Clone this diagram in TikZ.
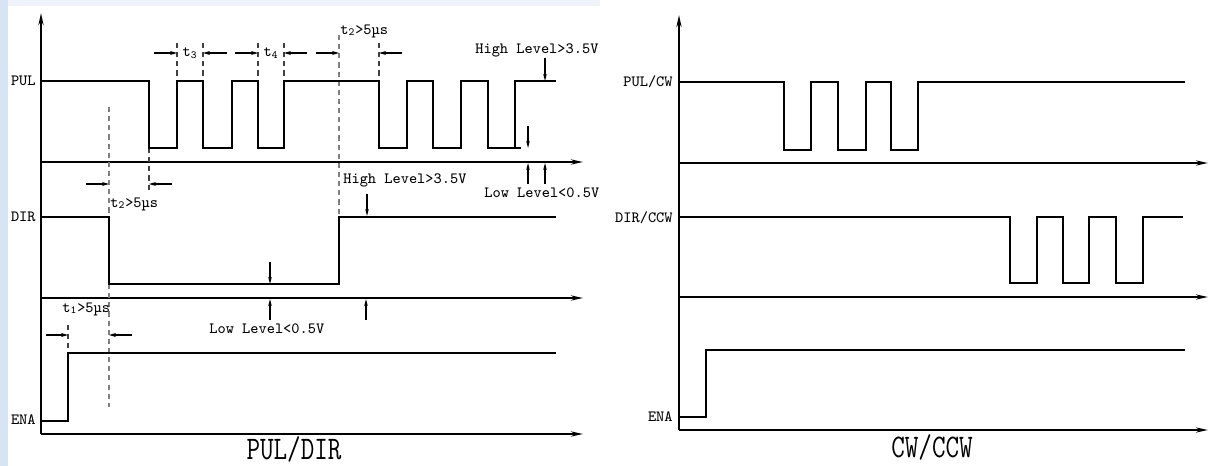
\documentclass[tikz,border=0pt]{standalone}
\usepackage{fontspec}
\usetikzlibrary{arrows.meta}
\newfontfamily\lblfont{Latin Modern Mono}
\definecolor{wm}{RGB}{214,228,244}
\tikzset{
  sig/.style={line width=1.15pt, line join=miter},
  axis/.style={line width=1.15pt, -{Stealth[length=6.8pt,width=2.9pt]}},
  guide/.style={line width=0.6pt, gray, dash pattern=on 2.9pt off 2.3pt},
  guidedark/.style={line width=0.6pt, black!75, dash pattern=on 2.9pt off 2.3pt},
  dim/.style={line width=0.8pt, -{Stealth[length=4pt,width=2.3pt]}},
  lvl/.style={line width=1pt, -{Stealth[length=4pt,width=2pt]}},
  txt/.style={inner sep=0pt, font=\lblfont\fontsize{8.9pt}{10pt}\selectfont},
  big/.style={inner sep=0pt, font=\lblfont\fontsize{15pt}{17pt}\selectfont},
}
\begin{document}
\begin{tikzpicture}[x=0.02cm, y=-0.02cm]
\useasboundingbox (0,0) rectangle (1209,466);
\fill[white] (0,0) rectangle (1209,466);
\fill[wm] (0,0) rectangle (8,466);
\fill[wm!40] (8,0) rectangle (600,6);

% ---------------- left diagram ----------------
\coordinate (LO) at (41,434);
\draw[axis] (LO) -- (41,13);
\draw[axis] (41,162) -- (583,162);
\draw[axis] (41,298) -- (583,298);
\draw[axis] (LO) -- (583,434);

% guides
\draw[guide] (339,35) -- (339,217);
\draw[guide] (109,107) -- (109,217);
\draw[guide] (109,284) -- (109,407);
\draw[guidedark] (149,148) -- (149,192);
\foreach \x in {177,203,258,284,379} \draw[guidedark] (\x,43) -- (\x,81);
\draw[guidedark] (68,325) -- (68,353);

% signals
\draw[sig] (41,81) -- (149,81) -- (149,148) -- (177,148) -- (177,81) -- (203,81) -- (203,148) -- (232,148) -- (232,81) -- (258,81) -- (258,148) -- (284,148) -- (284,81) -- (379,81) -- (379,148) -- (407,148) -- (407,81) -- (433,81) -- (433,148) -- (461,148) -- (461,81) -- (488,81) -- (488,148) -- (515,148) -- (515,81) -- (556,81);
\draw[line width=0.7pt] (515,148) -- (521,148);
\draw[sig] (41,217) -- (109,217) -- (109,284) -- (339,284) -- (339,217) -- (556,217);
\draw[sig] (41,421) -- (68,421) -- (68,353) -- (556,353);

% timing dimension arrows
\draw[dim] (154,53) -- (177,53);
\draw[dim] (227,53) -- (203,53);
\draw[dim] (235,53) -- (258,53);
\draw[dim] (307,53) -- (284,53);
\draw[dim] (316,53) -- (339,53);
\draw[dim] (402,53) -- (379,53);
\draw[dim] (86,184) -- (109,184);
\draw[dim] (172,184) -- (149,184);
\draw[dim] (46,335) -- (68,335);
\draw[dim] (132,335) -- (109,335);

% level arrows
\draw[lvl] (545,58) -- (545,81);
\draw[lvl] (528,126) -- (528,148);
\draw[lvl] (528,184) -- (528,163);
\draw[lvl] (545,184) -- (545,163);
\draw[lvl] (367,194) -- (367,216);
\draw[lvl] (270,262) -- (270,284);
\draw[lvl] (270,320) -- (270,299);
\draw[lvl] (366,320) -- (366,299);

% labels
\node[txt, anchor=east] (lpul) at (36,81) {PUL};
\node[txt, anchor=east] (ldir) at (36,217) {DIR};
\node[txt, anchor=east] (lena) at (36,420) {ENA};
\node[txt] (t3) at (190,53) {t\textsubscript{3}};
\node[txt] (t4) at (271,53) {t\textsubscript{4}};
\node[txt, anchor=west] (t2a) at (340,31) {t\textsubscript{2}>5µs};
\node[txt, anchor=west] (t2b) at (110,204) {t\textsubscript{2}>5µs};
\node[txt, anchor=west] (t1) at (62,309) {t\textsubscript{1}>5µs};
\node[txt, anchor=west] (hl1) at (475,50) {High Level>3.5V};
\node[txt, anchor=west] (ll1) at (484,193) {Low Level<0.5V};
\node[txt, anchor=west] (hl2) at (343,180) {High Level>3.5V};
\node[txt, anchor=west] (ll2) at (209,329) {Low Level<0.5V};
\node[big] (tl) at (294,449) {\scalebox{1}[1.25]{PUL/DIR}};

% ---------------- right diagram ----------------
\coordinate (RO) at (679,430);
\draw[axis] (RO) -- (679,15);
\draw[axis] (679,163) -- (1208,163);
\draw[axis] (679,297) -- (1208,297);
\draw[axis] (RO) -- (1208,430);

\draw[sig] (679,82) -- (784,82) -- (784,150) -- (811,150) -- (811,82) -- (838,82) -- (838,150) -- (866,150) -- (866,82) -- (891,82) -- (891,150) -- (918,150) -- (918,82) -- (1185,82);
\draw[sig] (679,217) -- (1010,217) -- (1010,283) -- (1037,283) -- (1037,217) -- (1063,217) -- (1063,283) -- (1089,283) -- (1089,217) -- (1116,217) -- (1116,283) -- (1143,283) -- (1143,217) -- (1183,217);
\draw[sig] (679,417) -- (706,417) -- (706,350) -- (1185,350);

\node[txt, anchor=east] (rpul) at (673,82) {PUL/CW};
\node[txt, anchor=east] (rdir) at (673,218) {DIR/CCW};
\node[txt, anchor=east] (rena) at (673,417) {ENA};
\node[big] (tr) at (932,447) {\scalebox{1}[1.25]{CW/CCW}};
\end{tikzpicture}
\end{document}
